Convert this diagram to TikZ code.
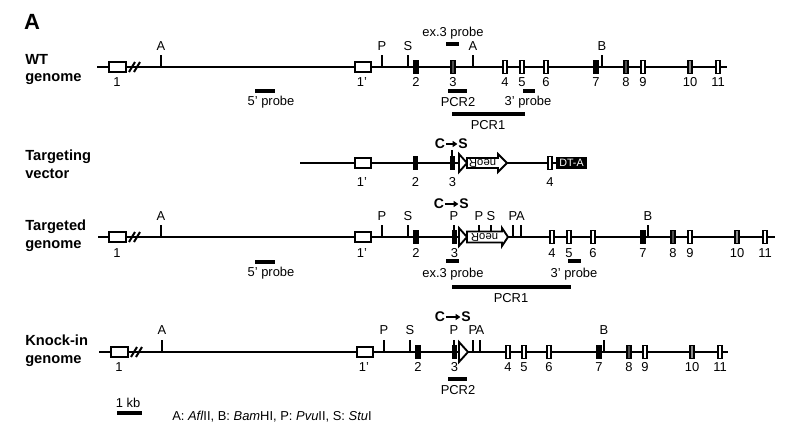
\documentclass[tikz,border=0pt]{standalone}
\usepackage{fontspec}
\setmainfont{Liberation Sans}
\usetikzlibrary{arrows.meta}
\definecolor{exgray}{RGB}{80,80,80}
\definecolor{exlight}{RGB}{140,140,140}

\begin{document}
\begin{tikzpicture}[x=0.75pt, y=-0.75pt, >={Triangle[length=3.5pt,width=4.5pt]},
    dna/.style={line width=2.2pt},
    site/.style={line width=1.5pt},
    exon/.style={draw, line width=1.4pt},
    bigexon/.style={draw, fill=white, line width=1.6pt},
    bar/.style={line width=3pt},
    lbl/.style={font=\fontsize{9.7}{11}\selectfont, inner sep=0pt},
    rowlbl/.style={font=\bfseries\fontsize{11}{13.2}\selectfont, align=left, anchor=west, inner sep=0pt},
    mut/.style={font=\bfseries\fontsize{10.5}{11}\selectfont, inner sep=0pt},
    cassette/.style={draw, fill=white, line width=1.4pt}]

    \useasboundingbox (0,0) rectangle (800,433);
    \node[font=\bfseries\fontsize{16.5}{18}\selectfont] (panel) at (32,22) {A};

    % WT genome
    \node[rowlbl] (wt) at (25,69.5) {WT\\genome};
    \draw[dna] (97,67) -- (727,67);
    \draw[bigexon] (109,62) rectangle (126,72);
    \draw[bigexon] (355,62) rectangle (371,72);
    \draw[site] (129,72) -- (135,62) (134,72) -- (140,62);
    \node[lbl] (wt1) at (117,82) {1};
    \node[lbl] (wt1p) at (362,82) {1'};
    \foreach \x/\s in {161/A, 382/P, 408/S, 473/A, 602/B} {
        \draw[site] (\x,67) -- (\x,55);
        \node[lbl] at (\x,46) {\s};
    }
    \foreach \x/\c/\n in {416/black/2, 453/exgray/3, 505/white/4, 522/white/5, 546/white/6,
                          596/black/7, 626/exgray/8, 643/white/9, 690/exlight/10, 718/white/11} {
        \draw[exon, fill=\c] (\x-2,60.5) rectangle (\x+2,73.5);
        \node[lbl] at (\x,82) {\n};
    }
    \draw[bar] (255,91) -- (275,91);
    \node[lbl] (wt5p) at (271,102) {5' probe};
    \draw[bar] (446,44) -- (459,44);
    \node[lbl] (wtex3) at (453,33) {ex.3 probe};
    \draw[bar] (448,91) -- (467,91);
    \node[lbl] (wtpcr2) at (458,102) {PCR2};
    \draw[bar] (523,91) -- (535,91);
    \node[lbl] (wt3p) at (528,102) {3' probe};
    \draw[bar] (452,114) -- (525,114);
    \node[lbl] (wtpcr1) at (488,125) {PCR1};

    % Targeting vector
    \node[rowlbl] (tv) at (25,164) {Targeting\\vector};
    \draw[dna] (300,163) -- (557,163);
    \draw[bigexon] (355,158) rectangle (371,168);
    \node[lbl] at (362,182) {1'};
    \draw[site] (452,163) -- (452,150);
    \foreach \x/\c/\n in {415.5/black/2, 452.5/black/3, 550/white/4} {
        \draw[exon, fill=\c] (\x-2,156.5) rectangle (\x+2,169.5);
        \node[lbl] at (\x,182) {\n};
    }
    \node[mut] (c2) at (440,144) {C};
    \node[mut] (s2) at (463,144) {S};
    \draw[->, line width=1.6pt, shorten <=0.5pt, shorten >=0.5pt] (c2) -- (s2);
    \draw[cassette] (459,154) -- (467,163) -- (459,172) -- cycle;
    \draw[cassette] (467,158) -- (498,158) -- (498,154) -- (507,163) -- (498,172) -- (498,168) -- (467,168) -- cycle;
    \node[font=\fontsize{8.5}{9}\selectfont, inner sep=0pt, rotate=180] (neo2) at (482.5,163) {neoR};
    \draw[draw, fill=black, line width=1.4pt] (557,158) rectangle (586,168);
    \node[font=\fontsize{8}{9}\selectfont, inner sep=0pt, text=white] (dta) at (571.5,163) {DT-A};

    % Targeted genome
    \node[rowlbl] (tg) at (25,236) {Targeted\\genome};
    \draw[dna] (98,237) -- (775,237);
    \draw[bigexon] (109,232) rectangle (126,242);
    \draw[bigexon] (355,232) rectangle (371,242);
    \draw[site] (129,242) -- (135,232) (134,242) -- (140,232);
    \node[lbl] at (117,253) {1};
    \node[lbl] at (362,253) {1'};
    \foreach \x/\s in {161/A, 382/P, 408/S, 454/P, 513/P, 520.5/A, 648/B} {
        \draw[site] (\x,237) -- (\x,225);
        \node[lbl] at (\x,216) {\s};
    }
    \foreach \x/\c/\n in {416/black/2, 454.5/black/3, 552/white/4, 569/white/5, 593/white/6,
                          643/black/7, 673/exgray/8, 690/white/9, 737/exlight/10, 765/white/11} {
        \draw[exon, fill=\c] (\x-2,230.5) rectangle (\x+2,243.5);
        \node[lbl] at (\x,253) {\n};
    }
    \node[mut] (c3) at (439,204) {C};
    \node[mut] (s3) at (464,204) {S};
    \draw[->, line width=1.6pt, shorten <=0.5pt, shorten >=0.5pt] (c3) -- (s3);
    \draw[cassette] (459,228) -- (467,237) -- (459,246) -- cycle;
    \draw[cassette] (467,231.5) -- (502,231.5) -- (502,228) -- (508,237) -- (502,246) -- (502,242.5) -- (467,242.5) -- cycle;
    \node[font=\fontsize{8.5}{9}\selectfont, inner sep=0pt, rotate=180] (neo3) at (484.5,237) {neoR};
    \foreach \x/\s in {479/P, 491/S} {
        \draw[site] (\x,231.5) -- (\x,225);
        \node[lbl] at (\x,216) {\s};
    }
    \draw[bar] (255,262) -- (275,262);
    \node[lbl] (tg5p) at (271,273) {5' probe};
    \draw[bar] (446,261) -- (459,261);
    \node[lbl] (tgex3) at (453,274) {ex.3 probe};
    \draw[bar] (568,261) -- (581,261);
    \node[lbl] (tg3p) at (574,274) {3' probe};
    \draw[bar] (452,287) -- (571,287);
    \node[lbl] (tgpcr1) at (511,298) {PCR1};

    % Knock-in genome
    \node[rowlbl] (ki) at (25,351) {Knock-in\\genome};
    \draw[dna] (99,352) -- (728,352);
    \draw[bigexon] (111,347) rectangle (128,357);
    \draw[bigexon] (357,347) rectangle (373,357);
    \draw[site] (131,357) -- (137,347) (136,357) -- (142,347);
    \node[lbl] at (119,367) {1};
    \node[lbl] at (364,367) {1'};
    \foreach \x/\s in {162/A, 384/P, 410/S, 454/P, 473/P, 480/A, 604/B} {
        \draw[site] (\x,352) -- (\x,340);
        \node[lbl] at (\x,330) {\s};
    }
    \foreach \x/\c/\n in {418/black/2, 454.5/black/3, 508/white/4, 524/white/5, 549/white/6,
                          599/black/7, 629/exgray/8, 645/white/9, 692/exlight/10, 720/white/11} {
        \draw[exon, fill=\c] (\x-2,345.5) rectangle (\x+2,358.5);
        \node[lbl] at (\x,367) {\n};
    }
    \node[mut] (c4) at (440,317) {C};
    \node[mut] (s4) at (466,317) {S};
    \draw[->, line width=1.6pt, shorten <=0.5pt, shorten >=0.5pt] (c4) -- (s4);
    \draw[cassette] (459,342) -- (468,352) -- (459,362) -- cycle;
    \draw[bar] (448,379) -- (467,379);
    \node[lbl] (kipcr2) at (458,390) {PCR2};

    % scale and enzymes
    \node[lbl] (kb) at (128,403) {1 kb};
    \draw[bar] (117,413) -- (142,413);
    \node[lbl, anchor=west] (legend) at (172,417) {A: \textit{Afl}II, B: \textit{Bam}HI, P: \textit{Pvu}II, S: \textit{Stu}I};

\end{tikzpicture}
\end{document}
